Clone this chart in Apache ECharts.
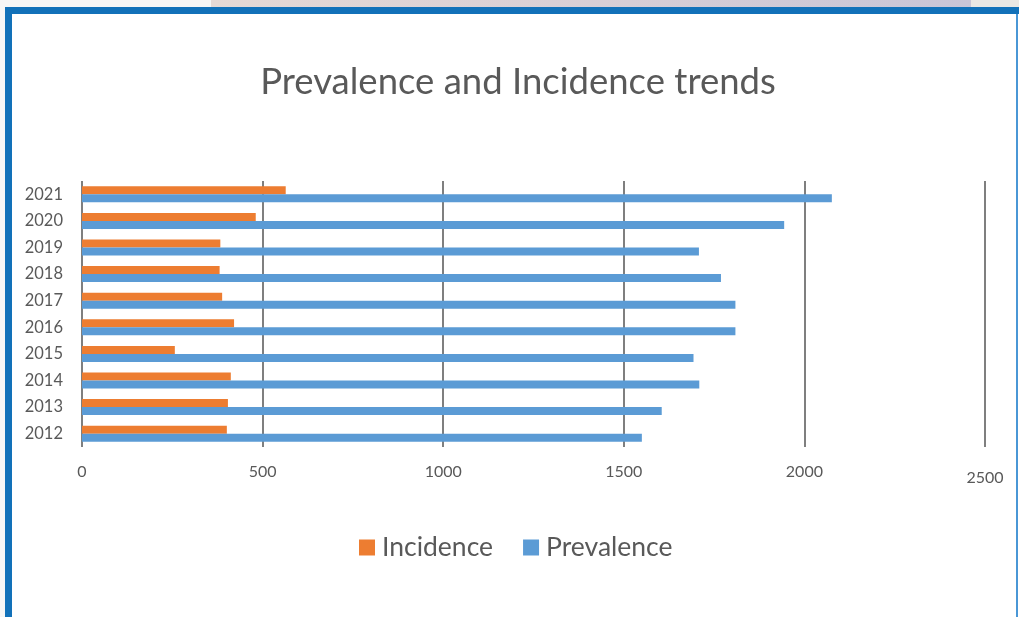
<!DOCTYPE html>
<html>
<head>
<meta charset="utf-8">
<script src="https://cdn.jsdelivr.net/npm/echarts@6/dist/echarts.min.js"></script>
<style>
html,body{margin:0;padding:0;background:#ffffff;}
#chart{width:1019px;height:617px;}
</style>
</head>
<body>
<div id="chart"></div>
<script>
var years = ['2012','2013','2014','2015','2016','2017','2018','2019','2020','2021'];
var incidence = [401, 404, 412, 257, 421, 388, 381, 383, 481, 564];
var prevalence = [1550, 1605, 1709, 1693, 1809, 1809, 1769, 1708, 1944, 2076];
var xTicks = [0, 500, 1000, 1500, 2000, 2500];

var chart = echarts.init(document.getElementById('chart'), null, {renderer: 'canvas'});
var labelColor = '#595959';
var font = 'Lato, Carlito, Calibri, sans-serif';

chart.setOption({
  backgroundColor: '#ffffff',
  animation: false,
  graphic: [
    {type: 'rect', z: -10, shape: {x: 0, y: 0, width: 1019, height: 7}, style: {fill: '#f6f6f6'}},
    {type: 'rect', z: -9, shape: {x: 211, y: 0, width: 760, height: 7},
      style: {fill: new echarts.graphic.LinearGradient(0, 0, 1, 0, [
        {offset: 0, color: '#e6d9d5'}, {offset: 1, color: '#c9c5d7'}])}},
    {type: 'rect', z: -9, shape: {x: 971, y: 0, width: 48, height: 7}, style: {fill: '#e9e7e4'}},
    {type: 'rect', z: -10, shape: {x: 0, y: 7, width: 5, height: 610}, style: {fill: '#f6f6f6'}},
    {type: 'rect', z: 10, shape: {x: 5, y: 7, width: 1014, height: 7}, style: {fill: '#1271b9'}},
    {type: 'rect', z: 10, shape: {x: 5, y: 7, width: 7, height: 610}, style: {fill: '#1271b9'}},
    {type: 'rect', z: 10, shape: {x: 1016, y: 14, width: 2, height: 603}, style: {fill: '#4a97d6'}}
  ],
  title: {
    text: 'Prevalence and Incidence trends',
    left: 513,
    textAlign: 'center',
    top: 59,
    textStyle: {fontFamily: font, fontSize: 36.5, fontWeight: 'normal', color: labelColor}
  },
  legend: {
    data: ['Incidence', 'Prevalence'],
    left: 354,
    top: 529,
    itemWidth: 16,
    itemHeight: 16,
    itemGap: 30,
    icon: 'rect',
    textStyle: {fontFamily: font, fontSize: 26.5, color: labelColor, padding: [0, 0, 0, 2]}
  },
  grid: {left: 82, right: 34, top: 181, bottom: 170, containLabel: false},
  xAxis: {
    type: 'value',
    min: 0,
    max: 2500,
    interval: 500,
    axisLine: {show: false},
    axisTick: {show: false},
    splitLine: {show: true, lineStyle: {color: '#7f7f7f', width: 2}},
    axisLabel: {
      margin: 17,
      fontFamily: font,
      fontSize: 16,
      color: labelColor,
      formatter: function (v) {
        return xTicks.indexOf(v) === xTicks.length - 1 ? '{low|' + v + '}' : String(v);
      },
      rich: {low: {fontFamily: font, fontSize: 16, color: labelColor, padding: [6, 0, 0, 0]}}
    }
  },
  yAxis: {
    type: 'category',
    data: years,
    axisLine: {show: false},
    axisTick: {show: false},
    splitLine: {show: false},
    axisLabel: {margin: 19, fontFamily: font, fontSize: 16.5, color: labelColor}
  },
  series: [
    {
      name: 'Incidence',
      type: 'bar',
      data: incidence,
      itemStyle: {color: '#ed7d31'},
      barGap: '0%',
      barCategoryGap: '40%'
    },
    {
      name: 'Prevalence',
      type: 'bar',
      data: prevalence,
      itemStyle: {color: '#5b9bd5'},
      barGap: '0%',
      barCategoryGap: '40%'
    }
  ]
});
</script>
</body>
</html>
